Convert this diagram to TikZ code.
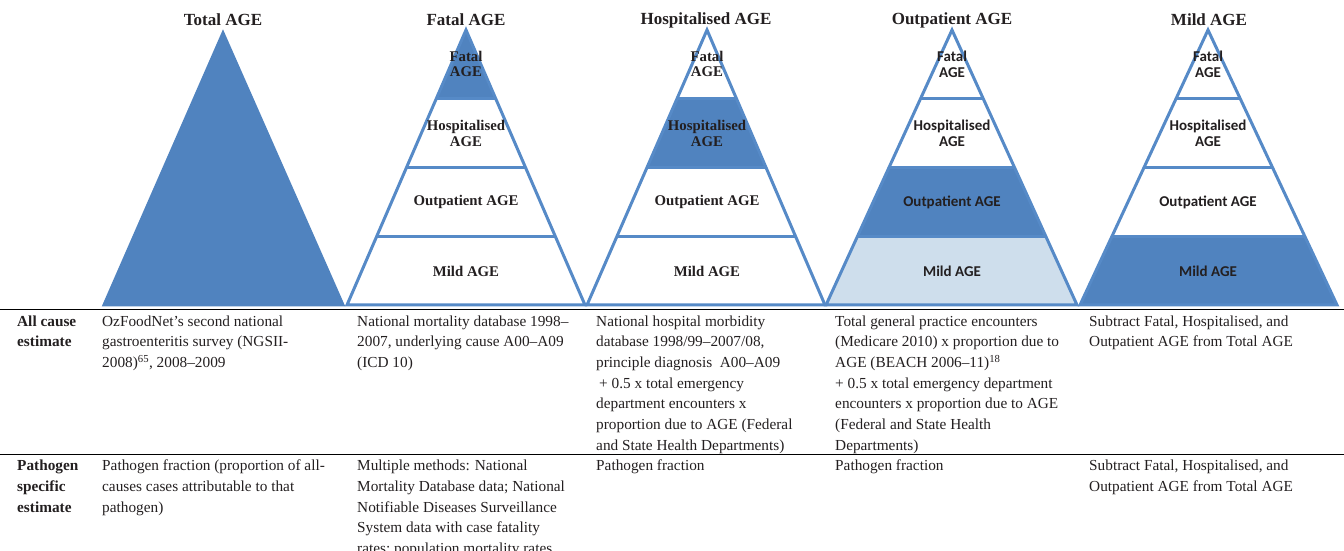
\documentclass[tikz,border=0pt]{standalone}
\usepackage{fontspec}
\setmainfont{Liberation Serif}
\newfontfamily\calib{Carlito}
\usetikzlibrary{calc}
\definecolor{agedark}{RGB}{80,131,191}
\definecolor{ageline}{RGB}{86,138,199}
\definecolor{agelight}{RGB}{206,222,236}
\definecolor{txt}{RGB}{35,31,32}
\tikzset{
  pyrline/.style={draw=ageline,line width=3pt,line join=miter},
  title/.style={font=\fontsize{17}{20}\selectfont\bfseries,text=txt,inner sep=0pt},
  serlab/.style={font=\fontsize{14.8}{15.5}\selectfont\bfseries,text=txt,align=center,inner sep=0pt},
  sanlab/.style={font=\calib\fontsize{15}{16}\selectfont\bfseries,text=txt,align=center,inner sep=0pt},
  cell/.style={font=\fontsize{15.3}{20.7}\selectfont,text=txt,align=left,anchor=north west,inner sep=0pt},
  rowhead/.style={cell,font=\fontsize{15.3}{20.7}\selectfont\bfseries},
  tabline/.style={draw=black,line width=1pt}
}
% #1 name, #2 apex x, #3 left x, #4 right x, #5-#8 band fills top to bottom
\newcommand{\mypyr}[8]{%
  \coordinate (#1-A) at (#2,521);
  \coordinate (#1-L) at (#3,246);
  \coordinate (#1-R) at (#4,246);
  \foreach \t/\k in {0.25/1,0.5/2,0.75/3}{
    \coordinate (#1-l\k) at ($(#1-A)!\t!(#1-L)$);
    \coordinate (#1-r\k) at ($(#1-A)!\t!(#1-R)$);
  }
  \fill[#5] (#1-A) -- (#1-r1) -- (#1-l1) -- cycle;
  \fill[#6] (#1-l1) -- (#1-r1) -- (#1-r2) -- (#1-l2) -- cycle;
  \fill[#7] (#1-l2) -- (#1-r2) -- (#1-r3) -- (#1-l3) -- cycle;
  \fill[#8] (#1-l3) -- (#1-r3) -- (#1-R) -- (#1-L) -- cycle;
  \draw[pyrline] (#1-A) -- (#1-R) -- (#1-L) -- cycle;
  \draw[pyrline] (#1-l1) -- (#1-r1) (#1-l2) -- (#1-r2) (#1-l3) -- (#1-r3);
}
\newcommand{\mylabels}[3]{% #1 name, #2 apex x, #3 style
  \node[#3] (#1-tf) at (#2,487) {Fatal\\AGE};
  \node[#3] (#1-th) at (#2,417.5) {Hospitalised\\AGE};
  \node[#3] (#1-to) at (#2,349) {Outpatient AGE};
  \node[#3] (#1-tm) at (#2,279.5) {Mild AGE};
}
\begin{document}
\begin{tikzpicture}[x=1pt,y=1pt]
\useasboundingbox (0,0) rectangle (1344,551);
\clip (0,0) rectangle (1344,551);
% titles
\node[title] (t1) at (223,531) {Total AGE};
\node[title] (t2) at (466,531) {Fatal AGE};
\node[title] (t3) at (706,531) {Hospitalised AGE};
\node[title] (t4) at (952,531) {Outpatient AGE};
\node[title] (t5) at (1209,531) {Mild AGE};
% total pyramid
\coordinate (p1-A) at (223,518);
\coordinate (p1-L) at (104,246);
\coordinate (p1-R) at (343,246);
\fill[agedark] (p1-A) -- (p1-R) -- (p1-L) -- cycle;
\draw[pyrline,draw=agedark] (p1-A) -- (p1-R) -- (p1-L) -- cycle;
% other pyramids
\mypyr{p2}{466}{347}{585}{agedark}{white}{white}{white}
\mypyr{p3}{707}{587}{825}{white}{agedark}{white}{white}
\mypyr{p4}{952}{826}{1077}{white}{white}{agedark}{agelight}
\mypyr{p5}{1208}{1080}{1337}{white}{white}{white}{agedark}
\mylabels{p2}{466}{serlab}
\mylabels{p3}{707}{serlab}
\mylabels{p4}{952}{sanlab}
\mylabels{p5}{1208}{sanlab}
% table rules
\draw[tabline] (0,241) -- (1344,241);
\draw[tabline] (0,96) -- (1344,96);
% row 1
\node[rowhead] (r1h) at (17,239.5) {\strut All cause\\estimate};
\node[cell] (r1c1) at (102,239.5) {\strut OzFoodNet's second national\\gastroenteritis survey (NGSII-\\2008)\textsuperscript{65}, 2008--2009};
\node[cell] (r1c2) at (357,239.5) {\strut National mortality database 1998--\\2007, underlying cause A00--A09\\(ICD 10)};
\node[cell] (r1c3) at (596,239.5) {\strut National hospital morbidity\\database 1998/99--2007/08,\\principle diagnosis\ \ A00--A09\\\hspace*{3pt}+ 0.5 x total emergency\\department encounters x\\proportion due to AGE (Federal\\and State Health Departments)};
\node[cell] (r1c4) at (835,239.5) {\strut Total general practice encounters\\(Medicare 2010) x proportion due to\\AGE (BEACH 2006--11)\textsuperscript{18}\\+ 0.5 x total emergency department\\encounters x proportion due to AGE\\(Federal and State Health\\Departments)};
\node[cell] (r1c5) at (1089,239.5) {\strut Subtract Fatal, Hospitalised, and\\Outpatient AGE from Total AGE};
% row 2
\node[rowhead] (r2h) at (17,95) {\strut Pathogen\\specific\\estimate};
\node[cell] (r2c1) at (102,95) {\strut Pathogen fraction (proportion of all-\\causes cases attributable to that\\pathogen)};
\node[cell] (r2c2) at (357,95) {\strut Multiple methods: National\\Mortality Database data; National\\Notifiable Diseases Surveillance\\System data with case fatality\\rates; population mortality rates};
\node[cell] (r2c3) at (596,95) {\strut Pathogen fraction};
\node[cell] (r2c4) at (835,95) {\strut Pathogen fraction};
\node[cell] (r2c5) at (1089,95) {\strut Subtract Fatal, Hospitalised, and\\Outpatient AGE from Total AGE};
\end{tikzpicture}
\end{document}
